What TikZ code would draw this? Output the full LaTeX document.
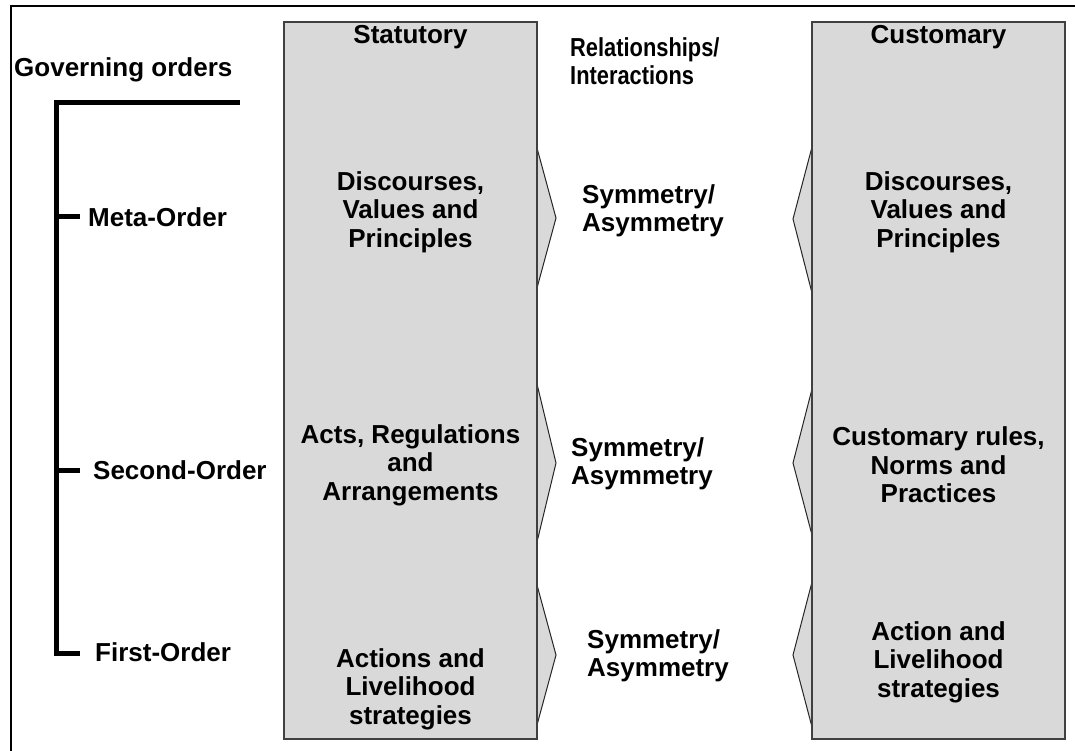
\documentclass[tikz,border=0pt]{standalone}
\usepackage{graphicx}
\usepackage{fontspec}
\setmainfont{Liberation Sans}
\begin{document}
\begin{tikzpicture}[x=1pt,y=-1pt,
  txt/.style={font=\fontsize{26}{28.5}\selectfont\bfseries, inner sep=0pt, align=center},
  ltxt/.style={font=\fontsize{26}{28.5}\selectfont\bfseries, inner sep=0pt, align=left, anchor=west},
  htxt/.style={font=\fontsize{26}{28}\selectfont\bfseries, inner sep=0pt, anchor=west},
  colbox/.style={draw=black!75, line width=1.3pt, fill=black!15, minimum width=253pt, minimum height=717pt, inner sep=0pt},
  chev/.style={fill=black!15},
  chevline/.style={draw=black!85, line width=1pt, line join=miter},
  bracket/.style={line width=5pt},
  frame/.style={line width=2pt}]
\useasboundingbox (0,0) rectangle (1075,751);
\fill[white] (0,0) rectangle (1075,751);

% outer frame (left and top edges)
\draw[frame] (11,760) -- (11,6) -- (1080,6);

% chevrons of the statutory column (pointing right)
\foreach \t/\c/\b in {148/218/288, 384/463/542, 585/655/725}{
  \fill[chev] (537,\t) -- (556,\c) -- (537,\b) -- cycle;
  \draw[chevline] (537,\t) -- (556,\c) -- (537,\b);
}
% chevrons of the customary column (pointing left)
\foreach \t/\c/\b in {147/219/293, 389/463/535, 582/655/727}{
  \fill[chev] (812,\t) -- (793,\c) -- (812,\b) -- cycle;
  \draw[chevline] (812,\t) -- (793,\c) -- (812,\b);
}

% the two columns
\node[colbox] (stat) at (410.5,380.5) {};
\node[colbox] (cust) at (938.5,380.5) {};

% governing orders bracket
\draw[bracket] (240,102.5) -- (56,102.5) -- (56,653) -- (80,653);
\draw[bracket] (56,217) -- (80,217);
\draw[bracket] (56,470) -- (80,470);

\node[ltxt] (gov) at (14,70) {Governing orders};
\node[ltxt] (meta) at (88,217) {Meta-Order};
\node[ltxt] (second) at (93,470) {Second-Order};
\node[ltxt] (first) at (95,652) {First-Order};

% headings
\node[txt] (hstat) at (410.5,37) {Statutory};
\node[htxt] (hrel) at (570,64.5)
  {\scalebox{0.84}[1]{\begin{tabular}{@{}l@{}}Relationships/\\Interactions\end{tabular}}};
\node[txt] (hcust) at (938.5,37) {Customary};

% statutory column
\node[txt] (s1) at (410.5,212) {Discourses,\\Values and\\Principles};
\node[txt] (s2) at (410.5,465) {Acts, Regulations\\and\\Arrangements};
\node[txt] (s3) at (410.5,689) {Actions and\\Livelihood\\strategies};

% customary column
\node[txt] (c1) at (938.5,212) {Discourses,\\Values and\\Principles};
\node[txt] (c2) at (938.5,465) {Customary rules,\\Norms and\\Practices};
\node[txt] (c3) at (938.5,662) {Action and\\Livelihood\\strategies};

% relationships
\node[ltxt] (r1) at (582,211) {Symmetry/\\Asymmetry};
\node[ltxt] (r2) at (571,464) {Symmetry/\\Asymmetry};
\node[ltxt] (r3) at (587,656) {Symmetry/\\Asymmetry};
\end{tikzpicture}
\end{document}
